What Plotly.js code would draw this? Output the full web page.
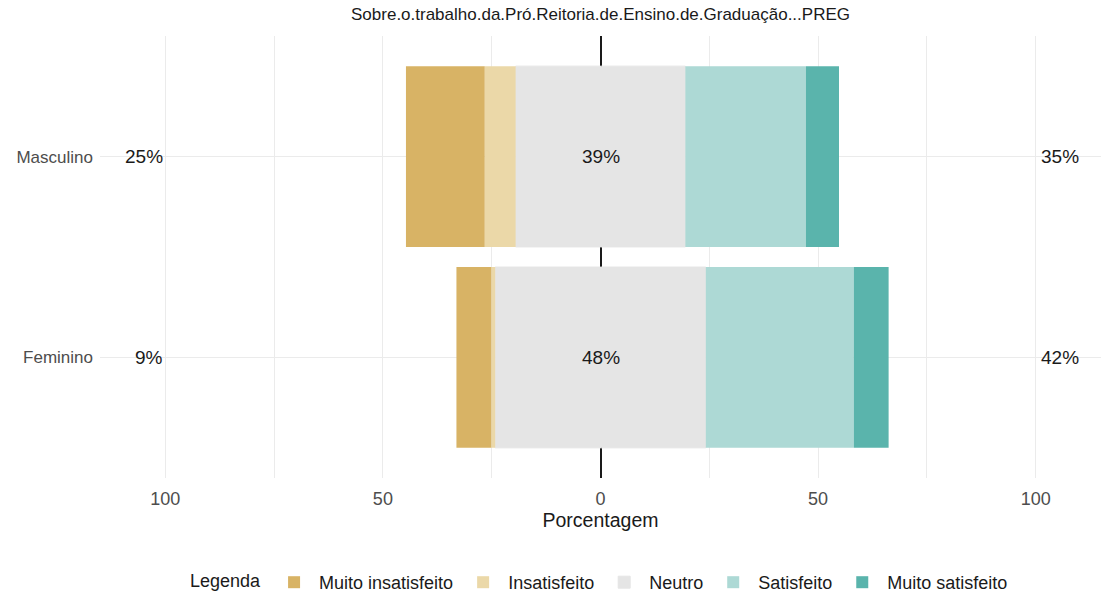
<!DOCTYPE html>
<html>
<head>
<meta charset="utf-8">
<script src="https://cdn.plot.ly/plotly-3.0.1.min.js"></script>
<style>html,body{margin:0;padding:0;background:#fff;}#chart{width:1101px;height:601px;}</style>
</head>
<body>
<div id="chart"></div>
<script>
// ---- data ----
const categories = ['Masculino', 'Feminino'];
const muitoInsatisfeito = [18.1, 8.0];
const insatisfeito = [7.1, 0.9];
const neutro = [39.0, 48.4];
const satisfeito = [27.7, 34.0];
const muitoSatisfeito = [7.6, 8.0];
const levels = ['Muito insatisfeito', 'Insatisfeito', 'Neutro', 'Satisfeito', 'Muito satisfeito'];
const colors = ['#D8B365', '#EBD8A8', '#E5E5E5', '#ADD9D5', '#5AB4AC'];
const xTickVals = [-100, -50, 0, 50, 100];
const xTickText = ['100', '50', '0', '50', '100'];
const titleText = 'Sobre.o.trabalho.da.Pró.Reitoria.de.Ensino.de.Graduação...PREG';

const FONT = 'Liberation Sans, Arial, sans-serif';
const neg = a => a.map(v => -v);
const half = a => a.map(v => v / 2);

function bar(name, x, color, rank, showlegend, seamFix) {
  return {
    type: 'bar', orientation: 'h', y: categories, x: x, name: name,
    marker: {color: color, line: seamFix ? {width: 1, color: color} : {width: 0}}, width: 0.9,
    legendrank: rank, showlegend: showlegend, hoverinfo: 'name+x'
  };
}

const traces = [
  bar(levels[2], neg(half(neutro)), colors[2], 3, true, true),
  bar(levels[2], half(neutro), colors[2], 3, false, true),
  bar(levels[1], neg(insatisfeito), colors[1], 2, true),
  bar(levels[3], satisfeito, colors[3], 4, true),
  bar(levels[0], neg(muitoInsatisfeito), colors[0], 1, true),
  bar(levels[4], muitoSatisfeito, colors[4], 5, true)
];

const annotations = [];
categories.forEach((c, i) => {
  const low = muitoInsatisfeito[i] + insatisfeito[i];
  const high = satisfeito[i] + muitoSatisfeito[i];
  const f = {family: FONT, size: 19, color: '#1a1a1a'};
  annotations.push({x: xTickVals[0], y: c, text: Math.round(low) + '%', showarrow: false,
    xanchor: 'right', font: f});
  annotations.push({x: 0, y: c, text: Math.round(neutro[i]) + '%', showarrow: false,
    xanchor: 'center', font: f});
  annotations.push({x: xTickVals[4], y: c, text: Math.round(high) + '%', showarrow: false,
    xanchor: 'left', xshift: 3, font: f});
});

const layout = {
  width: 1101, height: 601,
  margin: {l: 100, r: 0, t: 36, b: 122},
  paper_bgcolor: '#fff', plot_bgcolor: '#fff',
  barmode: 'relative',
  font: {family: FONT, color: '#333'},
  title: {text: titleText, font: {family: FONT, size: 17, color: '#1a1a1a'},
          x: 0.5, xref: 'paper', xanchor: 'center', y: 1 - 14 / 601, yref: 'container', yanchor: 'middle'},
  xaxis: {
    range: [-115, 115], tickvals: xTickVals, ticktext: xTickText,
    showgrid: true, gridcolor: '#EBEBEB', gridwidth: 1,
    minor: {tickvals: [-75, -25, 25, 75], showgrid: true, gridcolor: '#EBEBEB', gridwidth: 1},
    zeroline: true, zerolinecolor: '#1a1a1a', zerolinewidth: 2,
    showline: false, ticks: '', ticklabelstandoff: 8,
    tickfont: {family: FONT, size: 18, color: '#4d4d4d'},
    title: {text: 'Porcentagem', font: {family: FONT, size: 19.5, color: '#1a1a1a'}, standoff: 4},
    fixedrange: true
  },
  yaxis: {
    type: 'category', categoryorder: 'array', categoryarray: categories.slice().reverse(),
    range: [-0.6, 1.6], showgrid: true, gridcolor: '#EBEBEB', gridwidth: 1,
    zeroline: false, showline: false, ticks: '', ticklabelstandoff: 6,
    tickfont: {family: FONT, size: 17, color: '#4d4d4d'}, fixedrange: true
  },
  legend: {
    orientation: 'h', x: 0.5, xanchor: 'center', y: -0.236, yanchor: 'middle',
    title: {text: 'Legenda', font: {family: FONT, size: 18, color: '#1a1a1a'}, side: 'left'},
    font: {family: FONT, size: 18, color: '#1a1a1a'}, itemwidth: 40,
    traceorder: 'normal', itemclick: false, itemdoubleclick: false
  },
  annotations: annotations,
  showlegend: true
};

Plotly.newPlot('chart', traces, layout, {displayModeBar: false, staticPlot: true});
</script>
</body>
</html>
